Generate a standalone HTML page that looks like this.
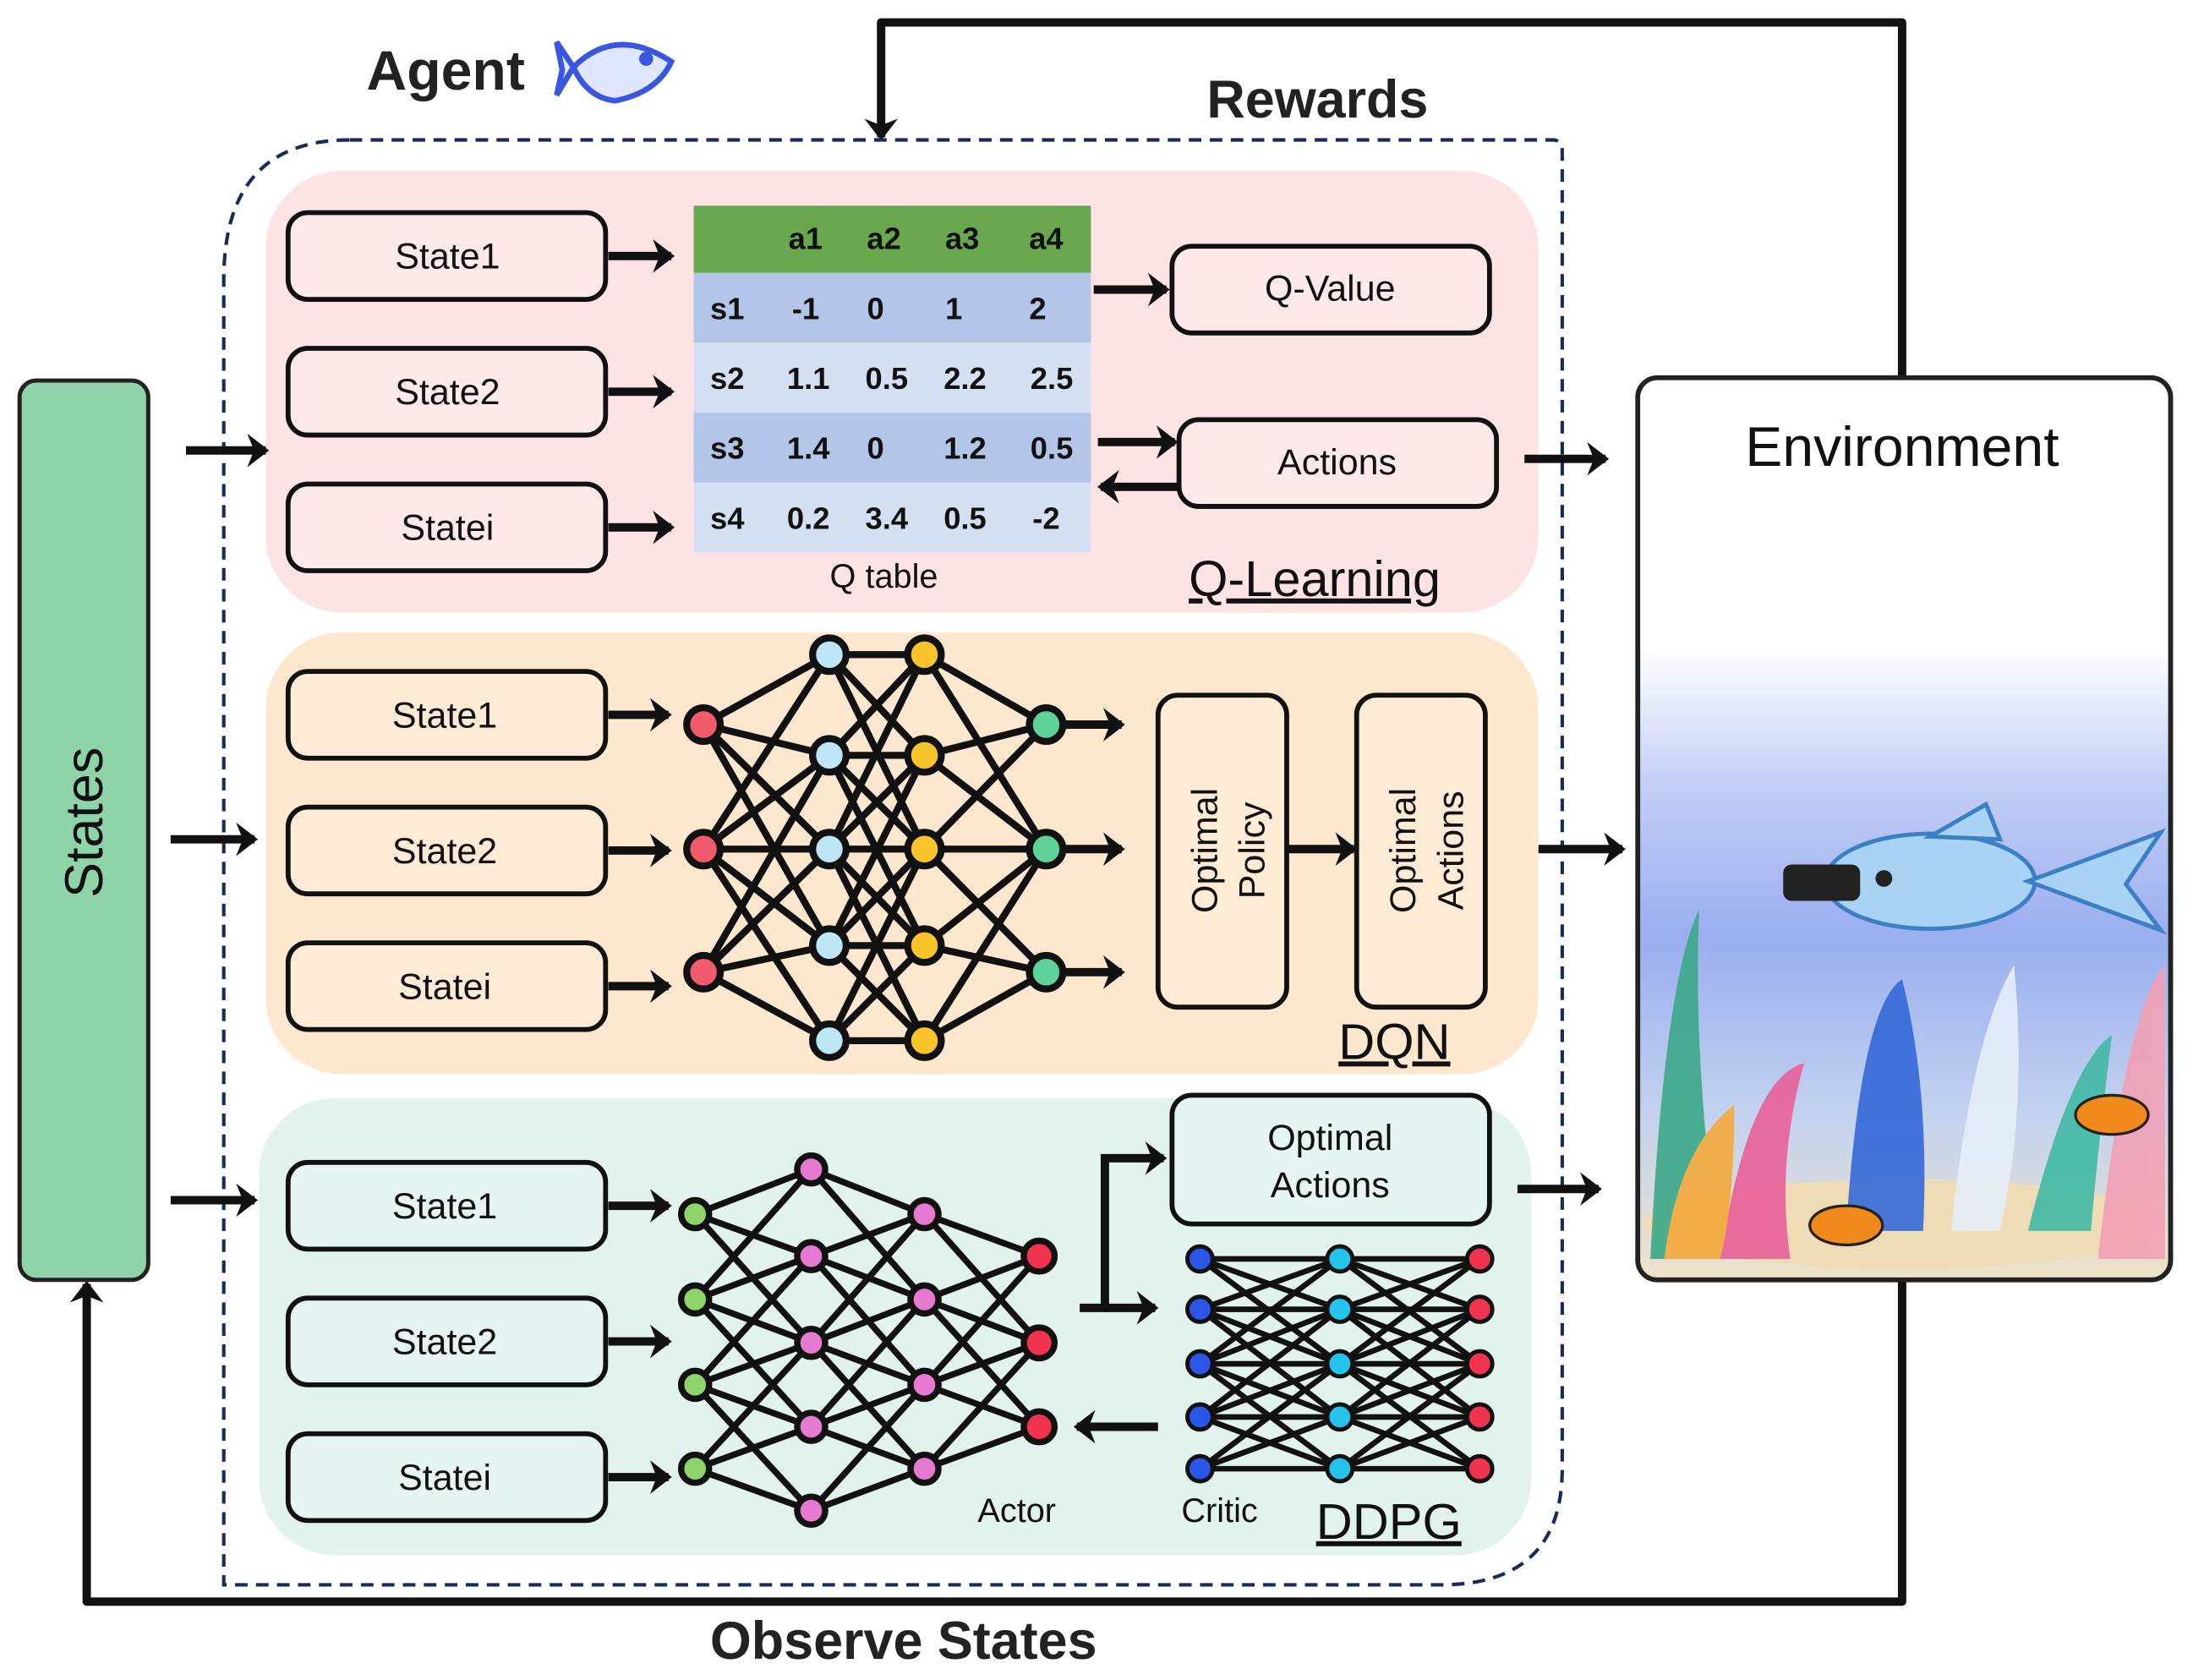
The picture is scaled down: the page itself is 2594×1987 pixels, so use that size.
<!DOCTYPE html>
<html><head><meta charset="utf-8"><style>html,body{margin:0;padding:0;background:#fff}svg{display:block}</style></head><body>
<svg xmlns="http://www.w3.org/2000/svg" width="2594" height="1987" viewBox="0 0 1568 1201" font-family="Liberation Sans, sans-serif">
<defs>
<marker id="ah" markerWidth="4" markerHeight="4" refX="2.2" refY="2" orient="auto" markerUnits="strokeWidth"><path d="M0,0 L2.6,2 L0,4 L0.8,2 Z" fill="#111"/></marker>
<linearGradient id="sea" x1="0" y1="0" x2="0" y2="1"><stop offset="0" stop-color="#ffffff"/><stop offset="0.3" stop-color="#ffffff"/><stop offset="0.45" stop-color="#c4cff6"/><stop offset="0.62" stop-color="#9aaef0"/><stop offset="0.82" stop-color="#c3d3ef"/><stop offset="1" stop-color="#efe2c8"/></linearGradient>
</defs>
<g stroke="#111" stroke-width="6" fill="none" stroke-linejoin="round">
<path d="M1360,270 V16 H630 V98" marker-end="url(#ah)"/>
<path d="M1360,915 V1145 H62 V918" marker-end="url(#ah)"/>
</g>
<text x="942" y="84" font-size="38" font-weight="bold" text-anchor="middle" fill="#222">Rewards</text>
<text x="646" y="1186" font-size="38" font-weight="bold" text-anchor="middle" fill="#222">Observe States</text>
<text x="262" y="64" font-size="40" font-weight="bold" fill="#222">Agent</text>
<g stroke="#3a55e0" stroke-width="4" fill="#dfe6ff"><path d="M410,48 Q440,18 480,44 Q470,66 440,72 Q420,70 410,48 Z"/><path d="M410,48 L398,30 L402,50 L398,68 Z"/><circle cx="462" cy="42" r="3" fill="#3a55e0"/></g>
<rect x="14" y="272" width="92" height="643" rx="12" fill="#8fd4a8" stroke="#222" stroke-width="3"/>
<text transform="translate(73,588) rotate(-90)" font-size="38" text-anchor="middle" fill="#111">States</text>
<path d="M250,100 H1110 Q1117,100 1117,108 V1050 Q1117,1133 1030,1133 H160 V200 Q160,100 250,100 Z" fill="none" stroke="#1a2a5a" stroke-width="2.5" stroke-dasharray="9,6"/>
<rect x="190" y="122" width="910" height="316" rx="55" fill="#fde3e3"/>
<rect x="190" y="452" width="910" height="316" rx="55" fill="#fde8cf"/>
<rect x="185" y="785" width="910" height="327" rx="55" fill="#e2f3ee"/>
<g stroke="#111" stroke-width="3.5">
<rect x="206" y="152" width="227" height="62" rx="14" fill="#fde9e9"/><rect x="206" y="249" width="227" height="62" rx="14" fill="#fde9e9"/><rect x="206" y="346" width="227" height="62" rx="14" fill="#fde9e9"/>
<rect x="206" y="480" width="227" height="62" rx="14" fill="#fdebd6"/><rect x="206" y="577" width="227" height="62" rx="14" fill="#fdebd6"/><rect x="206" y="674" width="227" height="62" rx="14" fill="#fdebd6"/>
<rect x="206" y="831" width="227" height="62" rx="14" fill="#e6f5f1"/><rect x="206" y="928" width="227" height="62" rx="14" fill="#e6f5f1"/><rect x="206" y="1025" width="227" height="62" rx="14" fill="#e6f5f1"/>
<rect x="838" y="176" width="227" height="62" rx="14" fill="#fde9e9"/><rect x="843" y="300" width="227" height="62" rx="14" fill="#fde9e9"/>
<rect x="828" y="497" width="92" height="223" rx="14" fill="#fdebd6"/><rect x="970" y="497" width="92" height="223" rx="14" fill="#fdebd6"/>
<rect x="838" y="783" width="227" height="92" rx="14" fill="#e6f5f1"/>
</g>
<g font-size="26" text-anchor="middle" fill="#111">
<text x="320" y="192">State1</text><text x="320" y="289">State2</text><text x="320" y="386">Statei</text>
<text x="318" y="520">State1</text><text x="318" y="617">State2</text><text x="318" y="714">Statei</text>
<text x="318" y="871">State1</text><text x="318" y="968">State2</text><text x="318" y="1065">Statei</text>
<text x="951" y="215">Q-Value</text><text x="956" y="339">Actions</text>
<text x="951" y="822">Optimal</text><text x="951" y="856">Actions</text>
<text transform="translate(870,608) rotate(-90)">Optimal</text><text transform="translate(904,608) rotate(-90)">Policy</text>
<text transform="translate(1012,608) rotate(-90)">Optimal</text><text transform="translate(1046,608) rotate(-90)">Actions</text>
<text x="632" y="420" font-size="24">Q table</text>
<text x="727" y="1088" font-size="24">Actor</text><text x="872" y="1088" font-size="24">Critic</text>
</g>
<g font-size="36" fill="#111" text-decoration="underline" text-anchor="middle">
<text x="940" y="426">Q-Learning</text><text x="997" y="757">DQN</text><text x="993" y="1100">DDPG</text>
</g>
<!-- Q table -->
<rect x="496" y="147" width="284" height="48" fill="#6aa84f"/>
<rect x="496" y="195" width="284" height="50" fill="#b4c6e7"/><rect x="496" y="245" width="284" height="50" fill="#d5dff2"/>
<rect x="496" y="295" width="284" height="50" fill="#b4c6e7"/><rect x="496" y="345" width="284" height="50" fill="#d5dff2"/>
<g font-size="22" font-weight="bold" text-anchor="middle" fill="#111">
<text x="576" y="178">a1</text><text x="632" y="178">a2</text><text x="688" y="178">a3</text><text x="748" y="178">a4</text>
<text x="520" y="228">s1</text><text x="576" y="228">-1</text><text x="626" y="228">0</text><text x="682" y="228">1</text><text x="742" y="228">2</text>
<text x="520" y="278">s2</text><text x="578" y="278">1.1</text><text x="634" y="278">0.5</text><text x="690" y="278">2.2</text><text x="752" y="278">2.5</text>
<text x="520" y="328">s3</text><text x="578" y="328">1.4</text><text x="626" y="328">0</text><text x="690" y="328">1.2</text><text x="752" y="328">0.5</text>
<text x="520" y="378">s4</text><text x="578" y="378">0.2</text><text x="634" y="378">3.4</text><text x="690" y="378">0.5</text><text x="748" y="378">-2</text>
</g>
<!-- arrows -->
<g stroke="#111" stroke-width="6" fill="none" marker-end="url(#ah)">
<path d="M435,183H480"/><path d="M435,280H480"/><path d="M435,377H480"/>
<path d="M435,511H478"/><path d="M435,608H478"/><path d="M435,705H478"/>
<path d="M435,862H478"/><path d="M435,959H478"/><path d="M435,1056H478"/>
<path d="M133,322H190"/><path d="M122,600H182"/><path d="M122,858H182"/>
<path d="M782,207H834"/><path d="M785,316H840"/><path d="M843,348H787"/>
<path d="M1090,328H1148"/><path d="M1100,607H1160"/><path d="M1085,850H1143"/>
<path d="M920,607H968"/>
<path d="M772,935H790V828H832"/><path d="M790,935H826"/>
<path d="M828,1020H770"/>
<path d="M760,518H802"/><path d="M760,607H802"/><path d="M760,695H802"/>
</g>
<!-- DQN net -->
<g stroke="#111" stroke-width="5">
<path d="M503,518L593,468M503,518L593,540M503,518L593,607M503,518L593,676M503,607L593,540M503,607L593,607M503,607L593,676M503,607L593,468M503,607L593,744M503,695L593,744M503,695L593,676M503,695L593,607M503,695L593,540"/>
<path d="M593,468L661,540M593,468L661,607M593,540L661,468M593,540L661,607M593,540L661,676M593,607L661,540M593,607L661,676M593,607L661,468M593,607L661,744M593,676L661,607M593,676L661,744M593,676L661,540M593,744L661,676M593,744L661,607"/>
<path d="M593,468H661M593,540H661M593,607H661M593,676H661M593,744H661"/>
<path d="M661,468L748,518M661,540L748,518M661,607L748,518M661,540L748,607M661,607L748,607M661,676L748,607M661,676L748,695M661,744L748,695M661,607L748,695M661,468L748,607M661,744L748,607"/>
</g>
<g stroke="#111" stroke-width="5">
<circle cx="503" cy="518" r="12" fill="#f25b6b"/><circle cx="503" cy="607" r="12" fill="#f25b6b"/><circle cx="503" cy="695" r="12" fill="#f25b6b"/>
<g fill="#bfe6f7"><circle cx="593" cy="468" r="12"/><circle cx="593" cy="540" r="12"/><circle cx="593" cy="607" r="12"/><circle cx="593" cy="676" r="12"/><circle cx="593" cy="744" r="12"/></g>
<g fill="#f7c52a"><circle cx="661" cy="468" r="12"/><circle cx="661" cy="540" r="12"/><circle cx="661" cy="607" r="12"/><circle cx="661" cy="676" r="12"/><circle cx="661" cy="744" r="12"/></g>
<g fill="#5fd29a"><circle cx="748" cy="518" r="12"/><circle cx="748" cy="607" r="12"/><circle cx="748" cy="695" r="12"/></g>
</g>
<!-- Actor -->
<g stroke="#111" stroke-width="4.5">
<path d="M497,868L580,836M497,868L580,898M497,868L580,960M497,929L580,898M497,929L580,960M497,929L580,1020M497,929L580,836M497,990L580,960M497,990L580,1020M497,990L580,898M497,990L580,1080M497,1050L580,1020M497,1050L580,1080M497,1050L580,960"/>
<path d="M580,836L661,868M580,836L661,929M580,898L661,868M580,898L661,929M580,898L661,990M580,960L661,929M580,960L661,990M580,960L661,868M580,960L661,1050M580,1020L661,990M580,1020L661,1050M580,1020L661,929M580,1080L661,1050M580,1080L661,990"/>
<path d="M661,868L743,898M661,868L743,960M661,929L743,898M661,929L743,960M661,929L743,1020M661,990L743,960M661,990L743,1020M661,990L743,898M661,1050L743,1020M661,1050L743,960"/>
</g>
<g stroke="#111" stroke-width="4.5">
<g fill="#8fd46a"><circle cx="497" cy="868" r="10"/><circle cx="497" cy="929" r="10"/><circle cx="497" cy="990" r="10"/><circle cx="497" cy="1050" r="10"/></g>
<g fill="#e57ad0"><circle cx="580" cy="836" r="10"/><circle cx="580" cy="898" r="10"/><circle cx="580" cy="960" r="10"/><circle cx="580" cy="1020" r="10"/><circle cx="580" cy="1080" r="10"/>
<circle cx="661" cy="868" r="10"/><circle cx="661" cy="929" r="10"/><circle cx="661" cy="990" r="10"/><circle cx="661" cy="1050" r="10"/></g>
<g fill="#f2334f"><circle cx="743" cy="898" r="11"/><circle cx="743" cy="960" r="11"/><circle cx="743" cy="1020" r="11"/></g>
</g>
<!-- Critic -->
<g stroke="#111" stroke-width="4">
<path d="M858,900L958,936M858,900L958,975M858,936L958,900M858,936L958,975M858,936L958,1013M858,975L958,936M858,975L958,1013M858,975L958,900M858,975L958,1050M858,1013L958,975M858,1013L958,1050M858,1013L958,936M858,1050L958,1013M858,1050L958,975"/>
<path d="M958,900L1058,936M958,900L1058,975M958,936L1058,900M958,936L1058,975M958,936L1058,1013M958,975L1058,936M958,975L1058,1013M958,975L1058,900M958,975L1058,1050M958,1013L1058,975M958,1013L1058,1050M958,1013L1058,936M958,1050L1058,1013M958,1050L1058,975"/>
<path d="M858,900H1058M858,936H1058M858,975H1058M858,1013H1058M858,1050H1058"/>
</g>
<g stroke="#111" stroke-width="3">
<g fill="#2a56e8"><circle cx="858" cy="900" r="9"/><circle cx="858" cy="936" r="9"/><circle cx="858" cy="975" r="9"/><circle cx="858" cy="1013" r="9"/><circle cx="858" cy="1050" r="9"/></g>
<g fill="#25c4ec"><circle cx="958" cy="900" r="9"/><circle cx="958" cy="936" r="9"/><circle cx="958" cy="975" r="9"/><circle cx="958" cy="1013" r="9"/><circle cx="958" cy="1050" r="9"/></g>
<g fill="#f2334f"><circle cx="1058" cy="900" r="9"/><circle cx="1058" cy="936" r="9"/><circle cx="1058" cy="975" r="9"/><circle cx="1058" cy="1013" r="9"/><circle cx="1058" cy="1050" r="9"/></g>
</g>
<!-- Environment -->
<rect x="1171" y="270" width="381" height="645" rx="14" fill="url(#sea)" stroke="#222" stroke-width="3.5"/>
<text x="1360" y="333" font-size="40" text-anchor="middle" fill="#111">Environment</text>
<ellipse cx="1360" cy="875" rx="185" ry="32" fill="#efdcb6"/>
<g opacity="0.9">
<path d="M1180,900 Q1190,700 1215,650 Q1210,760 1230,900 Z" fill="#3ca98a"/>
<path d="M1230,900 Q1250,770 1290,760 Q1270,830 1280,900 Z" fill="#e9609a"/>
<path d="M1320,880 Q1330,720 1360,700 Q1380,780 1375,880 Z" fill="#3468d8"/>
<path d="M1395,880 Q1410,740 1440,690 Q1450,790 1430,880 Z" fill="#e6eef8"/>
<path d="M1450,880 Q1480,760 1510,740 Q1500,820 1495,880 Z" fill="#42b9a5"/>
<path d="M1500,900 Q1520,720 1548,690 V900 Z" fill="#f3a0b5"/>
<path d="M1190,900 Q1200,820 1240,790 Q1240,860 1230,900 Z" fill="#f4a93c"/>
</g>
<ellipse cx="1320" cy="876" rx="26" ry="14" fill="#f08a1c" stroke="#222" stroke-width="2"/>
<ellipse cx="1510" cy="797" rx="26" ry="14" fill="#f08a1c" stroke="#222" stroke-width="2"/>
<ellipse cx="1380" cy="630" rx="75" ry="34" fill="#a9d3f4" stroke="#3b7fc4" stroke-width="3"/>
<path d="M1450,630 L1545,595 L1520,632 L1545,665 Z" fill="#a9d3f4" stroke="#3b7fc4" stroke-width="3"/>
<path d="M1380,598 L1420,575 L1430,600 Z" fill="#a9d3f4" stroke="#3b7fc4" stroke-width="3"/>
<rect x="1275" y="618" width="55" height="26" rx="6" fill="#222"/>
<circle cx="1347" cy="628" r="6" fill="#222"/>
</svg>
</body></html>
